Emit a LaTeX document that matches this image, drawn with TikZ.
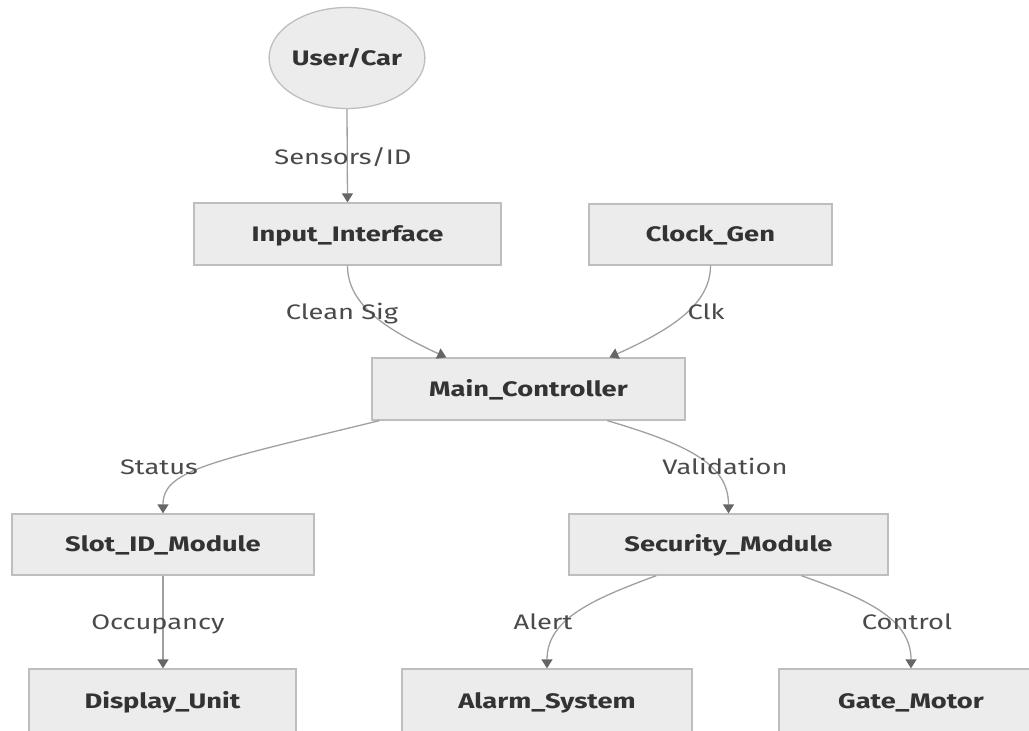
\documentclass[tikz,border=0pt]{standalone}
\usepackage{fontspec}
\setmainfont[FakeStretch=1.3]{Fira Sans}
\usetikzlibrary{arrows.meta,calc,shapes.geometric}

\definecolor{boxfill}{HTML}{ECECEC}
\definecolor{boxline}{HTML}{BEBEBE}
\definecolor{boxtext}{HTML}{333333}
\definecolor{edgeline}{HTML}{A0A0A0}
\definecolor{tipcol}{HTML}{666666}
\definecolor{labeltext}{HTML}{4A4A4A}

\tikzset{
  block/.style={rectangle, draw=boxline, fill=boxfill, line width=1.3pt,
    inner sep=0pt, text=boxtext, font=\fontsize{21}{21}\selectfont\bfseries,
    text height=14.5pt, text depth=0pt, anchor=center},
  terminal/.style={ellipse, draw=boxline, fill=boxfill, line width=1.3pt,
    inner sep=0pt, text=boxtext, font=\fontsize{21}{21}\selectfont\bfseries,
    text height=14.5pt, text depth=0pt,
    minimum width=143pt, minimum height=101pt},
  edge/.style={draw=edgeline, line width=1.3pt,
    -{Triangle[width=11pt,length=9pt,color=tipcol]}},
  elabel/.style={text=labeltext, font=\fontsize{21}{21}\selectfont,
    anchor=base, inner sep=0pt},
}

\begin{document}
\begin{tikzpicture}[x=1pt,y=-1pt]
\useasboundingbox (0,0) rectangle (1029,731);
\clip (0,0) rectangle (1029,731);
\fill[white] (0,0) rectangle (1029,731);

% nodes
\node[terminal] (user) at (347,58) {User/Car};
\node[block, minimum width=307pt, minimum height=62pt] (inp) at (347.5,234) {Input\_Interface};
\node[block, minimum width=243pt, minimum height=61pt] (clk) at (710.5,234.5) {Clock\_Gen};
\node[block, minimum width=313pt, minimum height=62pt] (main) at (528.5,389) {Main\_Controller};
\node[block, minimum width=302pt, minimum height=61pt] (slot) at (163,544.5) {Slot\_ID\_Module};
\node[block, minimum width=319pt, minimum height=61pt] (sec) at (728.5,544.5) {Security\_Module};
\node[block, minimum width=267pt, minimum height=64pt] (disp) at (162.5,701) {Display\_Unit};
\node[block, minimum width=290pt, minimum height=64pt] (alarm) at (547,701) {Alarm\_System};
\node[block, minimum width=264pt, minimum height=64pt] (gate) at (911,701) {Gate\_Motor};

% connectors
\draw[edge] (user.south) -- (inp.north);
\draw[edge] (inp.south) .. controls (347.5,305) and (387,330) .. ($(main.north west)+(75,0)$);
\draw[edge] (clk.south) .. controls (710.5,305) and (670,330) .. ($(main.north west)+(238,0)$);
\draw[edge] ($(main.south west)+(8,0)$) .. controls (210,462) and (163,470) .. (slot.north);
\draw[edge] ($(main.south west)+(236,0)$) .. controls (690,445) and (728.5,465) .. (sec.north);
\draw[edge] (slot.south) -- (slot.south |- disp.north);
\draw[edge] ($(sec.south west)+(88,0)$) .. controls (590,600) and (547,620) .. (alarm.north);
\draw[edge] ($(sec.south west)+(233,0)$) .. controls (870,600) and (911,620) .. (gate.north);

% connector labels
\node[elabel] (lsens) at (343,164.5) {Sensors/ID};
\node[elabel] (lclean) at (342,319) {Clean Sig};
\node[elabel] (lclk) at (706,319) {Clk};
\node[elabel] (lstat) at (159,474) {Status};
\node[elabel] (lval) at (725,474) {Validation};
\node[elabel] (locc) at (158,629) {Occupancy};
\node[elabel] (lalert) at (543,629) {Alert};
\node[elabel] (lctrl) at (907,629) {Control};
\end{tikzpicture}
\end{document}
